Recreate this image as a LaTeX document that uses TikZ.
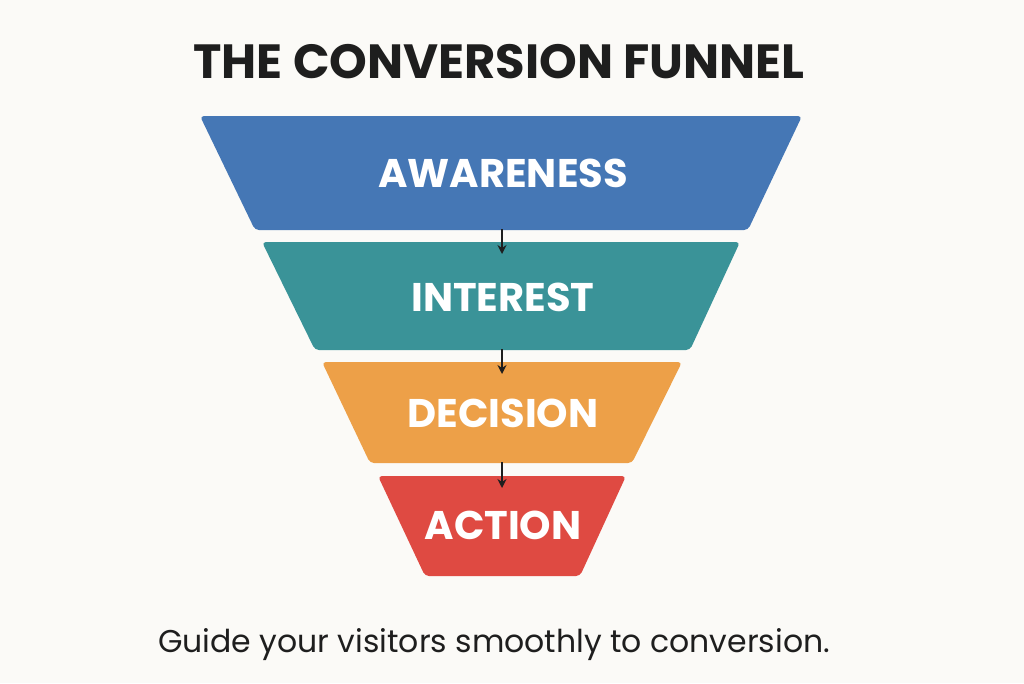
\documentclass[tikz,border=0pt]{standalone}
\usepackage{fontspec}
\setmainfont{Poppins}
\usetikzlibrary{arrows.meta}
\definecolor{bg}{HTML}{FBFAF7}
\definecolor{cA}{HTML}{4577B5}
\definecolor{cI}{HTML}{3A9398}
\definecolor{cD}{HTML}{EDA048}
\definecolor{cC}{HTML}{DF4A42}
\definecolor{ink}{HTML}{1E1E1E}
\tikzset{
  band/.style={rounded corners=4pt},
  lab/.style={text=white,font=\fontsize{40}{40}\selectfont\bfseries},
  flow/.style={-{Stealth[length=9pt,width=9pt]},line width=1.5pt,draw=ink}
}
\begin{document}
\begin{tikzpicture}[x=1pt,y=-1pt]
\fill[bg] (0,0) rectangle (1024,683);
\useasboundingbox (0,0) rectangle (1024,683);
\node[text=ink,font=\fontsize{48}{48}\selectfont\bfseries] (title) at (499,62) {THE CONVERSION FUNNEL};
\fill[cA,band] (200,116) -- (802,116) -- (748,230) -- (255,230) -- cycle;
\fill[cI,band] (262,242) -- (740,242) -- (690,350) -- (315,350) -- cycle;
\fill[cD,band] (322,362) -- (682,362) -- (632,463) -- (370,463) -- cycle;
\fill[cC,band] (378,476) -- (626,476) -- (580,576) -- (425,576) -- cycle;
\node[lab] (aw) at (503,173) {AWARENESS};
\node[lab] (in) at (503,297) {INTEREST};
\node[lab] (de) at (503,413) {DECISION};
\node[lab] (ac) at (503,525) {ACTION};
\coordinate (a1) at (502,229); \coordinate (a2) at (502,254);
\coordinate (b1) at (502,349); \coordinate (b2) at (502,374);
\coordinate (c1) at (502,462); \coordinate (c2) at (502,488);
\draw[flow] (a1) -- (a2);
\draw[flow] (b1) -- (b2);
\draw[flow] (c1) -- (c2);
\node[text=ink,font=\fontsize{31.5}{31.5}\selectfont] (sub) at (494,645) {Guide your visitors smoothly to conversion.};
\end{tikzpicture}
\end{document}
